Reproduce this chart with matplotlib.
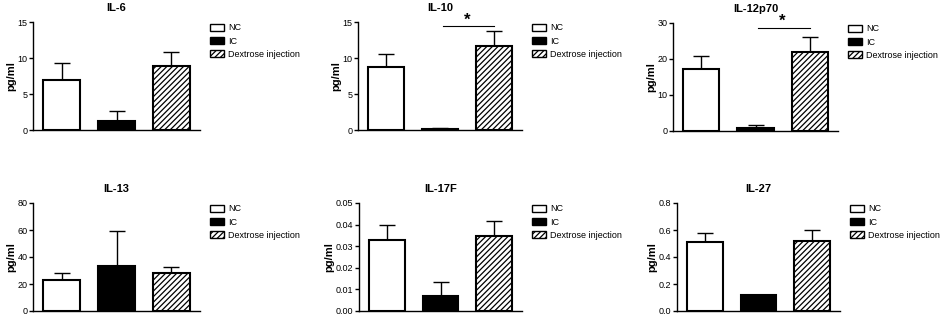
import matplotlib
matplotlib.use("Agg")
import matplotlib.pyplot as plt
from matplotlib.ticker import FormatStrFormatter
from matplotlib.patches import Patch

plt.rcParams['font.family'] = ['Liberation Sans', 'DejaVu Sans']
plt.rcParams['hatch.linewidth'] = 0.9

groups = ["NC", "IC", "Dextrose injection"]
titles = ["IL-6", "IL-10", "IL-12p70", "IL-13", "IL-17F", "IL-27"]

il6_mean = [7.0, 1.3, 8.9]
il6_err = [2.3, 1.4, 1.9]
il10_mean = [8.7, 0.2, 11.6]
il10_err = [1.8, 0.1, 2.1]
il12_mean = [17.3, 0.8, 22.0]
il12_err = [3.5, 0.8, 4.0]
il13_mean = [23.0, 33.0, 28.0]
il13_err = [5.0, 26.5, 4.5]
il17_mean = [0.033, 0.0068, 0.0347]
il17_err = [0.007, 0.0065, 0.0068]
il27_mean = [0.51, 0.115, 0.515]
il27_err = [0.07, 0.006, 0.085]

means = [il6_mean, il10_mean, il12_mean, il13_mean, il17_mean, il27_mean]
errs = [il6_err, il10_err, il12_err, il13_err, il17_err, il27_err]
ymax = [15, 15, 30, 80, 0.05, 0.8]
yticks = [[0, 5, 10, 15], [0, 5, 10, 15], [0, 10, 20, 30],
          [0, 20, 40, 60, 80], [0, 0.01, 0.02, 0.03, 0.04, 0.05],
          [0, 0.2, 0.4, 0.6, 0.8]]
fmts = ["%d", "%d", "%d", "%d", "%.2f", "%.1f"]
# significance: (panel index, from group, to group, line height, star height)
sig = [(1, 1, 2, 14.4, 15.3), (2, 1, 2, 28.6, 30.4)]

W, H = 941, 316
fig = plt.figure(figsize=(W / 100, H / 100), dpi=100)

# axes pixel boxes: left, right, top, bottom
boxes = [(33, 200, 22, 130), (358, 522, 22, 130), (673, 838, 23, 131),
         (33, 200, 203, 311), (359, 522, 203, 311), (677, 840, 203, 311)]

face = ["white", "black", "white"]
hatch = [None, None, "//////"]
x = [0, 1, 2]

for i in range(6):
    l, r, t, b = boxes[i]
    ax = fig.add_axes([l / W, 1 - b / H, (r - l) / W, (b - t) / H])
    bars = ax.bar(x, means[i], width=0.67, color=face, edgecolor="black",
                  linewidth=1.5, zorder=2)
    for bar, h in zip(bars, hatch):
        if h:
            bar.set_hatch(h)
    ax.errorbar(x, means[i], yerr=[[0, 0, 0], errs[i]], fmt="none",
                ecolor="black", elinewidth=1.0, capsize=6, capthick=1.0, zorder=1)
    ax.set_xlim(-0.52, 2.52)
    ax.set_ylim(0, ymax[i])
    ax.set_yticks(yticks[i])
    ax.yaxis.set_major_formatter(FormatStrFormatter(fmts[i]))
    ax.set_xticks([])
    for s in ["top", "right"]:
        ax.spines[s].set_visible(False)
    for s in ["left", "bottom"]:
        ax.spines[s].set_linewidth(1.0)
    ax.tick_params(axis="y", labelsize=6.5, length=3, width=1.0, pad=1)
    ax.set_ylabel("pg/ml", fontsize=8, fontweight="bold", labelpad=1)
    ax.set_title(titles[i], fontsize=8, fontweight="bold", pad=8)
    handles = [Patch(facecolor=face[k], edgecolor="black", hatch=hatch[k],
                     linewidth=1.0, label=groups[k]) for k in range(3)]
    ax.legend(handles=handles, loc="upper left", bbox_to_anchor=(1.04, 1.02),
              frameon=False, fontsize=6.5, handlelength=1.5, handleheight=0.8,
              labelspacing=0.45, handletextpad=0.5, borderaxespad=0.0)
    for (p, g1, g2, yl, ys) in sig:
        if p == i:
            ax.plot([g1 + 0.05, g2], [yl, yl], color="black", lw=0.8,
                    clip_on=False)
            ax.text((g1 + g2) / 2, ys, "*", ha="center", va="center",
                    fontsize=12, fontweight="bold", clip_on=False)

fig.savefig("out.png", dpi=100)
